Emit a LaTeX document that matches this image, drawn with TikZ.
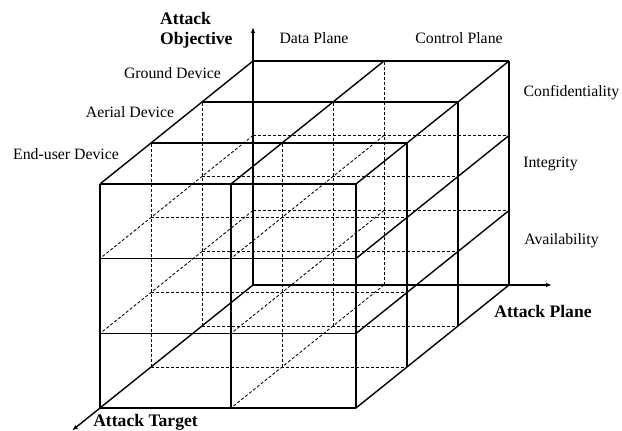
\documentclass[tikz,border=0pt]{standalone}
\usepackage{fontspec}
\setmainfont{Liberation Serif}
\usetikzlibrary{arrows.meta}

\tikzset{
  edge/.style={line width=1.4pt, line join=round},
  hidden/.style={line width=0.85pt, dash pattern=on 3pt off 2pt},
  axis/.style={line width=1.4pt, -{Latex[length=6pt,width=4.5pt]}},
  lbl/.style={font=\fontsize{15.8}{19}\selectfont, inner sep=0pt, anchor=base},
  title/.style={font=\fontsize{17.6}{21}\selectfont\bfseries, inner sep=0pt, anchor=base},
}

\begin{document}
\begin{tikzpicture}[x=1pt,y=1pt]
\useasboundingbox (0,0) rectangle (622,431);

% 3D frame: x along the planes, y up the objectives, z towards the viewer
\begin{scope}[shift={(253,146)}, x={(1pt,0pt)}, y={(0pt,1pt)}, z={(-51pt,-41pt)}]
  \def\xm{131}\def\xr{256}
  \def\ya{74.5}\def\yb{149.5}\def\yt{224}

  % hidden grid lines
  \foreach \yy/\zz in {0/1,0/2,\ya/0,\ya/1,\ya/2,\yb/0,\yb/1,\yb/2}
    \draw[hidden] (0,\yy,\zz) -- (\xr,\yy,\zz);
  \foreach \xx/\zz in {0/1,0/2,\xm/0,\xm/1,\xm/2}
    \draw[hidden] (\xx,0,\zz) -- (\xx,\yt,\zz);
  \foreach \xx/\yy in {0/\ya,0/\yb,\xm/0,\xm/\ya,\xm/\yb}
    \draw[hidden] (\xx,\yy,0) -- (\xx,\yy,3);

  % top face
  \foreach \zz in {0,1,2,3}
    \draw[edge] (0,\yt,\zz) -- (\xr,\yt,\zz);
  \foreach \xx in {0,\xm,\xr}
    \draw[edge] (\xx,\yt,0) -- (\xx,\yt,3);
  % front face
  \foreach \yy in {0,\ya,\yb}
    \draw[edge] (0,\yy,3) -- (\xr,\yy,3);
  \foreach \xx in {0,\xm}
    \draw[edge] (\xx,0,3) -- (\xx,\yt,3);
  % right face
  \foreach \zz in {0,1,2,3}
    \draw[edge] (\xr,0,\zz) -- (\xr,\yt,\zz);
  \foreach \yy in {0,\ya,\yb}
    \draw[edge] (\xr,\yy,0) -- (\xr,\yy,3);

  % axes
  \coordinate (O) at (0,0,0);
  \coordinate (objTip) at (0,258,0);
  \coordinate (planeTip) at (299,0,0);
  \coordinate (targetTip) at (0,0,3.55);
  \draw[axis] (O) -- (objTip);
  \draw[axis] (O) -- (planeTip);
  \draw[axis] (O) -- (targetTip);
\end{scope}

% axis titles
\node[title, anchor=base west] (tObjA) at (160,406) {Attack};
\node[title, anchor=base west] (tObjB) at (160,386) {Objective};
\node[title] (tPlane) at (543,113) {Attack Plane};
\node[title] (tTarget) at (145.5,4.5) {Attack Target};

% plane labels
\node[lbl] (dataP) at (314,387) {Data Plane};
\node[lbl] (ctrlP) at (459,387) {Control Plane};

% target labels
\node[lbl] (ground) at (172.5,352) {Ground Device};
\node[lbl] (aerial) at (130,313) {Aerial Device};
\node[lbl] (enduser) at (66,271) {End-user Device};

% objective labels
\node[lbl] (conf) at (571.5,334) {Confidentiality};
\node[lbl] (integ) at (550.5,263) {Integrity};
\node[lbl] (avail) at (561.5,186) {Availability};
\end{tikzpicture}
\end{document}
